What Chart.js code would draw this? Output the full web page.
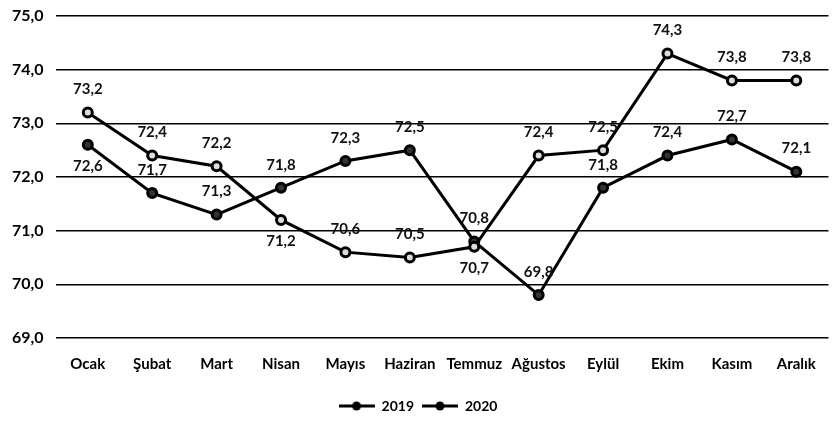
<!DOCTYPE html>
<html>
<head>
<meta charset="utf-8">
<script src="https://cdn.jsdelivr.net/npm/chart.js@4.4.0/dist/chart.umd.min.js"></script>
<style>
  html, body { margin: 0; padding: 0; background: #fff; }
  #chartContainer { width: 836px; height: 423px; }
</style>
</head>
<body>
<div id="chartContainer"><canvas id="myChart"></canvas></div>
<script>
const months = ['Ocak', 'Şubat', 'Mart', 'Nisan', 'Mayıs', 'Haziran', 'Temmuz', 'Ağustos', 'Eylül', 'Ekim', 'Kasım', 'Aralık'];
const y2019 = [73.2, 72.4, 72.2, 71.2, 70.6, 70.5, 70.7, 72.4, 72.5, 74.3, 73.8, 73.8];
const y2020 = [72.6, 71.7, 71.3, 71.8, 72.3, 72.5, 70.8, 69.8, 71.8, 72.4, 72.7, 72.1];
const yTicks = [69, 70, 71, 72, 73, 74, 75];

// label side for each point: 1 = above, -1 = below
const side2019 = [1, 1, 1, -1, 1, 1, -1, 1, 1, 1, 1, 1];
const side2020 = [-1, 1, 1, 1, 1, 1, 1, 1, 1, 1, 1, 1];

const fontName = 'Lato, "Liberation Sans", sans-serif';

// small line + dot picture for the legend
function legendMark() {
    const c = document.createElement('canvas');
    c.width = 36; c.height = 12;
    const g = c.getContext('2d');
    g.strokeStyle = '#000';
    g.lineWidth = 3;
    g.beginPath(); g.moveTo(0, 6); g.lineTo(36, 6); g.stroke();
    g.fillStyle = '#000';
    g.beginPath(); g.arc(18, 6, 4.5, 0, Math.PI * 2); g.fill();
    return c;
}

const valueLabels = {
    id: 'valueLabels',
    afterDatasetsDraw(chart) {
        const ctx = chart.ctx;
        ctx.save();
        ctx.font = 'bold 15px ' + fontName;
        ctx.fillStyle = '#111';
        ctx.textAlign = 'center';
        ctx.textBaseline = 'middle';
        chart.data.datasets.forEach((ds, di) => {
            const meta = chart.getDatasetMeta(di);
            const sides = di === 0 ? side2019 : side2020;
            meta.data.forEach((pt, i) => {
                const txt = ds.data[i].toFixed(1).replace('.', ',');
                const dy = sides[i] === 1 ? -23 : 21;
                ctx.fillText(txt, pt.x, pt.y + dy);
            });
        });
        ctx.restore();
    }
};

const ctx = document.getElementById('myChart').getContext('2d');
const mark = legendMark();

const myChart = new Chart(ctx, {
    type: 'line',
    data: {
        labels: months,
        datasets: [{
            label: '2019',
            data: y2019,
            borderColor: '#000',
            borderWidth: 3,
            pointRadius: 4.5,
            pointBorderWidth: 3,
            pointBackgroundColor: '#ddd',
            pointBorderColor: '#000',
            tension: 0
        }, {
            label: '2020',
            data: y2020,
            borderColor: '#000',
            borderWidth: 3,
            pointRadius: 4.5,
            pointBorderWidth: 3,
            pointBackgroundColor: '#333',
            pointBorderColor: '#000',
            tension: 0
        }]
    },
    options: {
        responsive: true,
        maintainAspectRatio: false,
        animation: false,
        layout: { padding: { top: 0, right: 0, left: 0, bottom: 0 } },
        plugins: {
            tooltip: { enabled: false },
            legend: {
                position: 'bottom',
                labels: {
                    usePointStyle: true,
                    pointStyle: mark,
                    pointStyleWidth: 36,
                    color: '#000',
                    padding: 8,
                    font: { family: fontName, size: 14, weight: 'bold' }
                }
            }
        },
        scales: {
            x: {
                offset: true,
                grid: { display: false, drawTicks: false },
                border: { display: false },
                ticks: {
                    color: '#000',
                    padding: 19,
                    font: { family: fontName, size: 15, weight: 'bold', lineHeight: 1 }
                }
            },
            y: {
                min: 69,
                max: 75,
                afterBuildTicks(axis) {
                    axis.ticks = yTicks.map(v => ({ value: v }));
                },
                grid: { color: '#000', lineWidth: 1.5, drawTicks: false },
                border: { display: false },
                ticks: {
                    color: '#000',
                    padding: 12,
                    font: { family: fontName, size: 16, weight: 'bold', lineHeight: 0.5 },
                    callback: v => v.toFixed(1).replace('.', ',')
                }
            }
        }
    },
    plugins: [valueLabels]
});
</script>
</body>
</html>
